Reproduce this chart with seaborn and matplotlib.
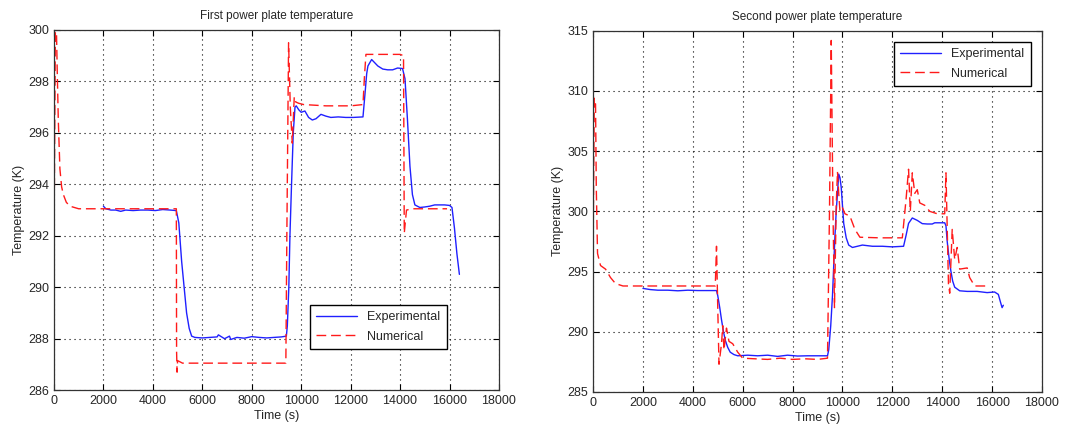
import pandas as pd
import seaborn as sns
import matplotlib.pyplot as plt

# values: (time s, temperature K)
exp1_t = [2000, 2100, 2300, 2500, 2700, 2900, 3200, 3500, 3800, 4100, 4400, 4700, 4950,
          5050, 5165, 5265, 5365, 5470, 5570, 5700, 6000, 6300, 6600, 6650, 6900, 7100, 7150,
          7400, 7700, 8000, 8300, 8600, 8900, 9200, 9400, 9440, 9500, 9545, 9610, 9680, 9750,
          9800, 9900, 10000, 10150, 10300, 10450, 10600, 10800, 11000, 11200, 11500, 11800,
          12100, 12500, 12580, 12650, 12700, 12850, 12950, 13100, 13300, 13500, 13700, 13900,
          14100, 14200, 14300, 14400, 14500, 14600, 14800, 15000, 15200, 15400, 15600, 15800,
          16000, 16100, 16200, 16300, 16400]
exp1_T = [293.15, 293.05, 293.0, 293.0, 292.95, 293.0, 292.98, 293.0, 293.0, 292.98, 293.02, 293.0, 292.98,
          292.5, 291.0, 290.0, 289.0, 288.4, 288.1, 288.05, 288.03, 288.05, 288.07, 288.15, 288.0, 288.1, 287.97,
          288.05, 288.02, 288.08, 288.05, 288.03, 288.05, 288.07, 288.1, 288.5, 290.0, 292.0, 294.0, 296.0, 297.0,
          297.05, 296.9, 296.8, 296.85, 296.6, 296.5, 296.55, 296.72, 296.65, 296.6, 296.62, 296.6,
          296.6, 296.62, 297.5, 298.3, 298.6, 298.85, 298.75, 298.6, 298.48, 298.45, 298.45, 298.52,
          298.5, 298.1, 296.5, 294.7, 293.6, 293.2, 293.1, 293.12, 293.15, 293.2, 293.2, 293.2,
          293.18, 293.1, 292.3, 291.3, 290.5]

num1_t = [0, 30, 60, 90, 130, 175, 240, 310, 380, 500, 650, 1000, 2000, 3000, 4000, 4950,
          4960, 4980, 5000, 5100, 5200, 6000, 7000, 8000, 9000, 9380, 9420, 9490, 9560, 9640,
          9720, 9780, 9900, 10100, 11000, 12000, 12500, 12560, 12620, 13000, 14000, 14140,
          14170, 14210, 14260, 14500, 15000, 15500, 15900]
num1_T = [291.6, 296.0, 300.5, 300.5, 298.5, 296.5, 294.6, 293.9, 293.6, 293.3, 293.15, 293.05, 293.05, 293.05, 293.05, 293.05,
          287.5, 286.7, 287.15, 287.1, 287.05, 287.05, 287.05, 287.05, 287.05, 287.05, 292.0, 299.5, 297.0, 295.6,
          297.4, 297.2, 297.15, 297.1, 297.05, 297.05, 297.1, 298.2, 299.05, 299.05, 299.05, 299.0,
          292.1, 292.5, 293.0, 293.05, 293.05, 293.05, 293.05]

exp2_t = [2000, 2300, 2600, 3000, 3400, 3800, 4200, 4600, 4950, 5000, 5080, 5150, 5230,
          5300, 5400, 5500, 5650, 5800, 6200, 6600, 7000, 7400, 7800, 8200, 8600, 9000, 9400,
          9450, 9530, 9600, 9650, 9700, 9750, 9800, 9850, 9900, 9950, 10000, 10050, 10150,
          10250, 10400, 10600, 10800, 11200, 11600, 12000, 12450, 12550, 12650, 12800, 13000,
          13200, 13400, 13600, 13700, 14100, 14150, 14200, 14280, 14350, 14420, 14500, 14700,
          15000, 15400, 15800, 16100, 16250, 16330, 16400, 16450]
exp2_T = [293.6, 293.5, 293.45, 293.45, 293.4, 293.45, 293.42, 293.42, 293.42, 293.0, 292.0, 291.0, 290.0,
          289.3, 288.7, 288.3, 288.1, 288.0, 288.05, 288.0, 288.05, 287.95, 288.05, 287.98, 288.0, 288.0, 288.0,
          288.5, 290.5, 293.0, 295.5, 298.0, 300.0, 301.5, 303.1, 302.8, 302.0, 300.5, 299.0, 297.8,
          297.2, 297.0, 297.1, 297.2, 297.1, 297.1, 297.05, 297.1, 298.0, 299.0, 299.45, 299.25,
          298.98, 298.95, 298.95, 299.05, 299.05, 298.8, 297.5, 296.0, 295.0, 294.2, 293.7, 293.4,
          293.35, 293.35, 293.25, 293.3, 293.1, 292.5, 292.0, 292.2]

num2_t = [0, 50, 100, 130, 180, 300, 500, 700, 900, 1200, 2000, 3000, 4000, 4900,
          4950, 5000, 5050, 5150, 5200, 5250, 5350, 5450, 5600, 5800, 6000, 6500, 7000,
          7500, 8000, 8500, 9000, 9400, 9480, 9550, 9620, 9680, 9750, 9800, 9850, 9900,
          10000, 10100, 10300, 10500, 10700, 11500, 12400, 12550, 12650, 12720, 12800, 12900,
          13000, 13100, 13300, 13500, 13800, 14100, 14150, 14250, 14300, 14400, 14500, 14600,
          14700, 15000, 15100, 15300, 15850]
num2_T = [296.5, 309.4, 308.9, 302.0, 296.5, 295.5, 295.2, 294.5, 294.0, 293.8, 293.8, 293.8, 293.8, 293.8,
          297.1, 292.0, 287.3, 289.0, 290.5, 288.5, 290.3, 289.2, 289.0, 288.3, 287.8, 287.75, 287.7,
          287.8, 287.7, 287.75, 287.7, 287.8, 300.0, 314.2, 300.0, 292.0, 300.5, 303.3, 301.5, 300.0,
          300.3, 299.8, 299.6, 298.5, 297.85, 297.8, 297.8, 301.0, 303.5, 300.0, 303.2, 301.5,
          301.8, 300.7, 300.5, 300.0, 299.8, 299.8, 303.2, 294.0, 293.2, 298.5, 296.0, 297.0,
          295.2, 295.3, 294.5, 293.8, 293.8]

sns.set_style("ticks")
plt.rcParams['font.family'] = ['Liberation Sans', 'DejaVu Sans']

fig = plt.figure(figsize=(10.73, 4.34), dpi=100)
ax1 = fig.add_axes([0.0503, 0.101, 0.4147, 0.830])
ax2 = fig.add_axes([0.5527, 0.097, 0.4184, 0.832])


def draw(ax, et, eT, nt, nT, title, ylim, yticks, legend_loc, anchor):
    exp = pd.DataFrame({"t": et, "T": eT})
    num = pd.DataFrame({"t": nt, "T": nT})
    sns.lineplot(data=exp, x="t", y="T", ax=ax, color="#2020ff", lw=1.0,
                 label="Experimental", sort=False, estimator=None)
    sns.lineplot(data=num, x="t", y="T", ax=ax, color="#ff1a1a", lw=1.0,
                 dashes=False, label="Numerical", sort=False, estimator=None)
    ax.lines[1].set_dashes([7, 3.5])
    ax.set_xlim(0, 18000)
    ax.set_ylim(*ylim)
    ax.set_xticks(range(0, 18001, 2000))
    ax.set_yticks(yticks)
    ax.grid(True, color="black", linestyle=(0, (1, 3.5)), linewidth=0.8)
    ax.tick_params(direction="in", length=4, labelsize=9, top=True, right=True, color="black")
    for s in ax.spines.values():
        s.set_color("#333333")
        s.set_linewidth(0.9)
    ax.set_xlabel("Time (s)", fontsize=9, labelpad=2)
    ax.set_ylabel("Temperature (K)", fontsize=9, labelpad=2)
    ax.set_title(title, fontsize=8.5, pad=8)
    leg = ax.legend(loc=legend_loc, bbox_to_anchor=anchor, fontsize=9, fancybox=False,
                    framealpha=1, edgecolor="black", handlelength=3.3, borderpad=0.5,
                    labelspacing=0.6)
    leg.get_frame().set_linewidth(1.0)


draw(ax1, exp1_t, exp1_T, num1_t, num1_T, "First power plate temperature",
     (286, 300), range(286, 301, 2), "lower right", (0.897, 0.097))
draw(ax2, exp2_t, exp2_T, num2_t, num2_T, "Second power plate temperature",
     (285, 315), range(285, 316, 5), "upper right", (0.989, 0.986))

fig.savefig("out.png", dpi=100)
